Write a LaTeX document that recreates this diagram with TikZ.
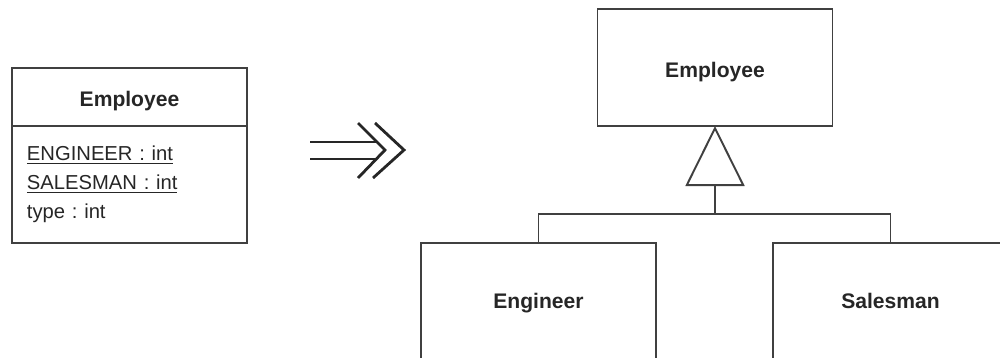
\documentclass[tikz,border=0pt]{standalone}
\usepackage{fontspec}
\setmainfont{Liberation Sans}
\usetikzlibrary{arrows.meta,positioning,calc}
\frenchspacing

\begin{document}
\begin{tikzpicture}[
    classbox/.style={rectangle, draw=black!75, line width=1.1pt, outer sep=0pt, minimum width=4.7cm, align=center, text height=0.4cm, text depth=0pt, font=\fontsize{12}{14}\selectfont\bfseries, text=black!85},
    attrbox/.style={rectangle, draw=black!75, line width=1.1pt, outer sep=0pt, minimum width=4.7cm, text width=4.1cm, inner xsep=0.3cm, align=left, font=\fontsize{11.5}{16.5}\selectfont, text=black!85},
    subbox/.style={classbox, anchor=north, text height=0.3cm, text depth=0.6cm, inner ysep=1cm},
    link/.style={draw=black!75, line width=1.1pt},
    gen/.style={link, -{Triangle[open, length=1.2cm, width=1.18cm, fill=white]}},
    becomes/.style={draw=black!85, line width=1.6pt}
]

\useasboundingbox (0,0) rectangle (20,-7.16);
\clip (0,0) rectangle (20,-7.16);

% Before: one class with type code
\node[classbox, minimum height=1.16cm] (oldemp) at (2.59, -1.94) {Employee};
\node[attrbox, minimum height=2.34cm, below=0pt of oldemp] (oldattr)
    {\underline{ENGINEER : int}\\\underline{SALESMAN : int}\\type : int};

% Refactoring arrow
\coordinate (arrA) at (6.2, -2.84);
\coordinate (arrB) at (6.2, -3.18);
\draw[becomes] (arrA) -- ++(1.34,0);
\draw[becomes] (arrB) -- ++(1.34,0);
\draw[becomes] (7.16,-2.46) -- (7.7,-3.0) -- (7.16,-3.56);
\draw[becomes] (7.5,-2.46) -- (8.08,-3.0) -- (7.46,-3.56);

% After: superclass
\node[classbox, minimum height=2.34cm] (super) at (14.3, -1.35) {Employee};

% Subclasses
\node[subbox] (eng) at (10.77, -4.86) {Engineer};
\node[subbox] (sal) at (17.81, -4.86) {Salesman};

% Inheritance
\coordinate (bus) at ($(super.south)+(0,-1.76)$);
\draw[link] (eng.north) |- (bus) -| (sal.north);
\draw[gen] (bus) -- (super.south);

\end{tikzpicture}
\end{document}
